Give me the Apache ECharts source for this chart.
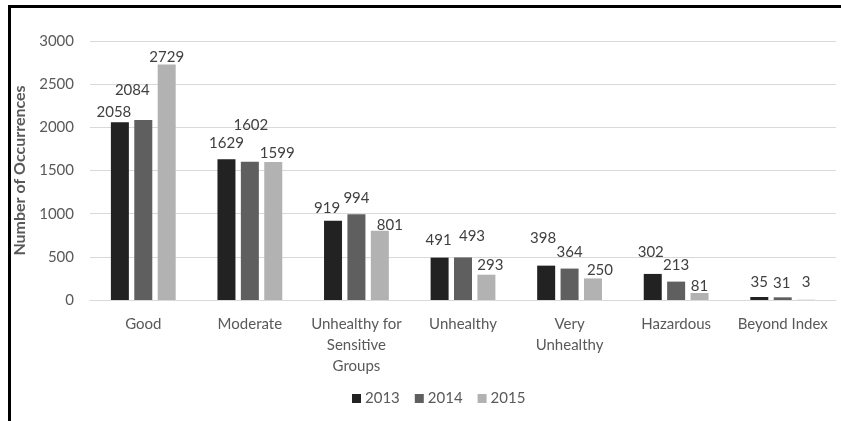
<!DOCTYPE html>
<html>
<head>
<meta charset="utf-8">
<script src="https://cdn.jsdelivr.net/npm/echarts@6/dist/echarts.min.js"></script>
<style>
  html, body { margin: 0; padding: 0; background: #fff; }
  #wrap { position: relative; width: 841px; height: 421px; overflow: hidden; }
  #chart { position: absolute; left: 0; top: 0; width: 841px; height: 421px; }
  #frame { position: absolute; left: 8px; top: 5px; width: 840px; height: 430px;
           border-top: 3px solid #000; border-left: 3px solid #000; pointer-events: none; }
</style>
</head>
<body>
<div id="wrap">
  <div id="chart"></div>
  <div id="frame"></div>
</div>
<script>
// AQI category counts per year
const categories = ['Good', 'Moderate', 'Unhealthy for\nSensitive\nGroups', 'Unhealthy',
                    'Very\nUnhealthy', 'Hazardous', 'Beyond Index'];
const years = ['2013', '2014', '2015'];
const values2013 = [2058, 1629, 919, 491, 398, 302, 35];
const values2014 = [2084, 1602, 994, 493, 364, 213, 31];
const values2015 = [2729, 1599, 801, 293, 250, 81, 3];
const yTicks = { min: 0, max: 3000, interval: 500 };

// per-label nudges [dx, dy] so neighbouring value labels don't collide
const labelNudge2013 = [[-6, 2], [0, -4], [-6, 0], [-1, -5], [-3, -15], [-2, -9], [0, -2]];
const labelNudge2014 = [[-11, -17], [1, -24], [0, -4], [9, -9], [0, -4], [0, -4], [-1, -2]];
const labelNudge2015 = [[0, 5], [4, 4], [10, 7], [4, 3], [7, 4], [0, 6], [0, -5]];

const colors = ['#222222', '#5f5f5f', '#b2b2b2'];
const FONT = 'Lato';

function makeSeries(name, values, nudges, color) {
  return {
    name: name,
    type: 'bar',
    barWidth: 18,
    barGap: '30%',
    itemStyle: { color: color },
    data: values.map((v, i) => ({
      value: v,
      label: { offset: nudges[i] }
    })),
    label: {
      show: true,
      position: 'top',
      distance: 5,
      fontFamily: FONT,
      fontSize: 15,
      color: '#404040'
    }
  };
}

const chart = echarts.init(document.getElementById('chart'), null, { renderer: 'canvas' });
chart.setOption({
  animation: false,
  backgroundColor: '#ffffff',
  textStyle: { fontFamily: FONT },
  grid: { left: 90, right: 5, top: 41, bottom: 121, containLabel: false },
  legend: {
    data: years,
    left: 347,
    top: 386,
    itemWidth: 9,
    itemHeight: 9,
    itemGap: 15,
    icon: 'rect',
    textStyle: { fontFamily: FONT, fontSize: 15, color: '#595959', padding: [0, 0, 0, -1] }
  },
  xAxis: {
    type: 'category',
    data: categories,
    axisLine: { show: true, lineStyle: { color: '#d9d9d9', width: 1 } },
    axisTick: { show: false },
    axisLabel: {
      interval: 0,
      fontFamily: FONT,
      fontSize: 15,
      color: '#595959',
      lineHeight: 21,
      margin: 14
    }
  },
  yAxis: {
    type: 'value',
    min: yTicks.min,
    max: yTicks.max,
    interval: yTicks.interval,
    name: 'Number of Occurrences',
    nameLocation: 'middle',
    nameGap: 54,
    nameTextStyle: { fontFamily: FONT, fontSize: 16, fontWeight: 'bold', color: '#595959' },
    axisLine: { show: false },
    axisTick: { show: false },
    splitLine: { lineStyle: { color: '#d9d9d9', width: 1 } },
    axisLabel: { fontFamily: FONT, fontSize: 15, color: '#595959', margin: 16,
                 formatter: v => String(v) }
  },
  series: [
    makeSeries(years[0], values2013, labelNudge2013, colors[0]),
    makeSeries(years[1], values2014, labelNudge2014, colors[1]),
    makeSeries(years[2], values2015, labelNudge2015, colors[2])
  ]
});
</script>
</body>
</html>
